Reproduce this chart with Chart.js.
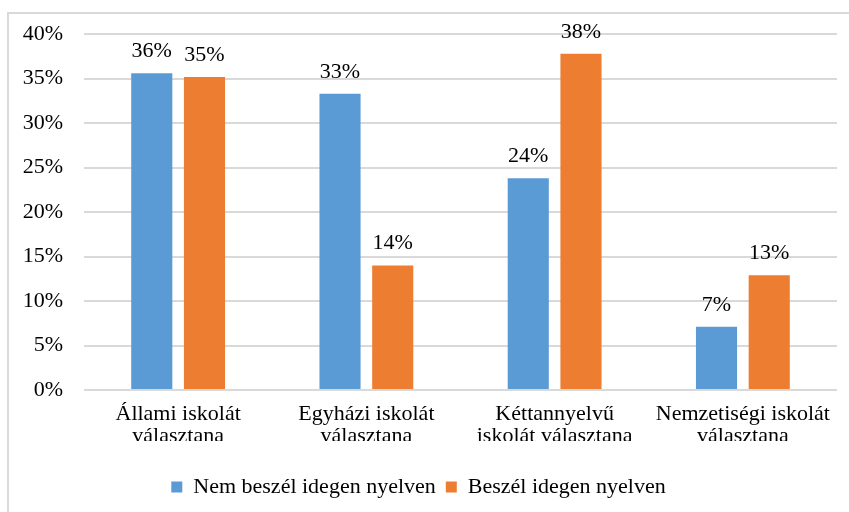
<!DOCTYPE html>
<html>
<head>
<meta charset="utf-8">
<script src="https://cdn.jsdelivr.net/npm/chart.js@4"></script>
<style>
  html, body { margin: 0; padding: 0; background: #fff; }
  #wrap { position: relative; width: 849px; height: 512px; }
  #frame { position: absolute; left: 7px; top: 12px; width: 842px; height: 500px;
           border-left: 2px solid #d9d9d9; border-top: 2px solid #d9d9d9; box-sizing: border-box; pointer-events: none; }
  canvas { position: absolute; left: 0; top: 0; }
</style>
</head>
<body>
<div id="wrap">
  <canvas id="c" width="849" height="512"></canvas>
  <div id="frame"></div>
</div>
<script>
const categories = [
  ["Állami iskolát", "választana"],
  ["Egyházi iskolát", "választana"],
  ["Kéttannyelvű", "iskolát választana"],
  ["Nemzetiségi iskolát", "választana"]
];
const seriesNames = ["Nem beszél idegen nyelven", "Beszél idegen nyelven"];
const noForeign = [35.6, 33.3, 23.8, 7.1];
const foreign = [35.2, 14.0, 37.8, 12.9];
const yTicks = [0, 5, 10, 15, 20, 25, 30, 35, 40];

const FONT = "'Liberation Serif', 'Times New Roman', serif";
const FS = 22;

const valueLabels = {
  id: 'valueLabels',
  afterDatasetsDraw(chart) {
    const ctx = chart.ctx;
    ctx.save();
    ctx.font = FS + "px " + FONT;
    ctx.fillStyle = "#000";
    ctx.textAlign = "center";
    ctx.textBaseline = "alphabetic";
    chart.data.datasets.forEach((ds, i) => {
      const meta = chart.getDatasetMeta(i);
      meta.data.forEach((el, j) => {
        ctx.fillText(Math.round(ds.data[j]) + "%", el.x, el.y - 16);
      });
    });
    ctx.restore();
  }
};

const clipLabels = {
  id: 'clipLabels',
  afterDraw(chart) {
    const ctx = chart.ctx;
    const xs = chart.scales.x;
    ctx.save();
    ctx.fillStyle = "#fff";
    ctx.fillRect(xs.left - 40, xs.bottom - 25, xs.width + 60, 25);
    ctx.restore();
  }
};

new Chart(document.getElementById('c'), {
  type: 'bar',
  data: {
    labels: categories,
    datasets: [
      { label: seriesNames[0], data: noForeign, backgroundColor: '#5B9BD5',
        categoryPercentage: 0.56, barPercentage: 0.78 },
      { label: seriesNames[1], data: foreign, backgroundColor: '#ED7D31',
        categoryPercentage: 0.56, barPercentage: 0.78 }
    ]
  },
  options: {
    responsive: false,
    animation: false,
    layout: { padding: { top: 34, right: 12, bottom: 4, left: 0 } },
    plugins: {
      legend: {
        position: 'bottom',
        labels: {
          font: { family: FONT, size: FS },
          color: '#000',
          boxWidth: 11,
          boxHeight: 11,
          padding: 10
        }
      },
      tooltip: { enabled: false }
    },
    scales: {
      x: {
        grid: { display: false, drawTicks: false },
        border: { display: false },
        ticks: { font: { family: FONT, size: FS, lineHeight: 1.0 }, color: '#000', padding: 13, maxRotation: 0, autoSkip: false },
        afterFit(s) { s.height = 76; }
      },
      y: {
        min: 0, max: 40,
        afterBuildTicks(s) { s.ticks = yTicks.map(v => ({ value: v })); },
        grid: { color: '#d9d9d9', lineWidth: 2, drawTicks: false },
        border: { display: false },
        ticks: { font: { family: FONT, size: FS }, color: '#000', padding: 21,
                 callback: v => v + '%' },
        afterFit(s) { s.width = 84; }
      }
    }
  },
  plugins: [valueLabels, clipLabels]
});
</script>
</body>
</html>
